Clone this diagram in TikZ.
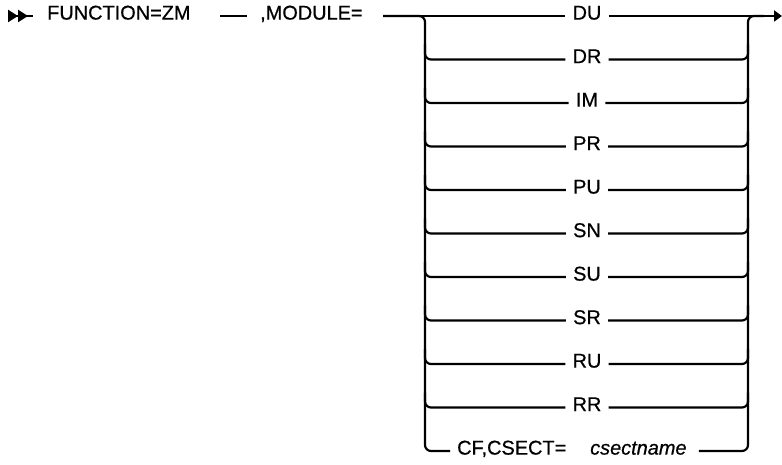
\documentclass[tikz,border=0pt]{standalone}
\usepackage{fontspec}
\setmainfont{Liberation Sans}
\newfontfamily\railfont{Liberation Sans}[FakeBold=0.6]
\usetikzlibrary{arrows.meta}

\begin{document}
\begin{tikzpicture}[
  x=1bp, y=-1bp,
  kw/.style={inner xsep=7bp, inner ysep=0pt, text height=0.72em, text depth=0pt,
             font=\railfont\fontsize{20}{24}\selectfont},
  var/.style={kw, font=\railfont\fontsize{20}{24}\selectfont\itshape},
  rail/.style={line width=2.2bp, rounded corners=6bp},
  >={Triangle[length=8bp,width=11bp]}
]
\useasboundingbox (0,0) rectangle (782,465);

%% ── main line ─────────────────────────────────────────────────
\coordinate (start) at (8,16);
\node[kw, anchor=west, inner xsep=14bp] (func) at (33,16) {FUNCTION=ZM};
\coordinate (dashL) at (220,16);
\coordinate (dashR) at (247,16);
\node[kw, anchor=west, inner xsep=0pt] (module) at (260,16) {,MODULE=};
\coordinate (lin)  at (383,16);
\coordinate (ltop) at (425,16);
\coordinate (lbot) at (425,451);
\coordinate (rtop) at (748,16);
\coordinate (rbot) at (748,451);
\coordinate (rjoin) at (764,16);
\coordinate (fin)  at (782,16);

\draw[rail, {Triangle[reversed,length=10bp,width=12bp] Triangle[reversed,length=10bp,width=12bp]}-]
  (start) -- (func);
\draw[rail] (dashL) -- (dashR);

%% ── choices ───────────────────────────────────────────────────
\node[kw] (du) at (587,16)    {DU};
\node[kw] (dr) at (587,59.5)  {DR};
\node[kw] (im) at (587,103)   {IM};
\node[kw] (pr) at (587,146.5) {PR};
\node[kw] (pu) at (587,190)   {PU};
\node[kw] (sn) at (587,233.5) {SN};
\node[kw] (su) at (587,277)   {SU};
\node[kw] (sr) at (587,320.5) {SR};
\node[kw] (ru) at (587,364)   {RU};
\node[kw] (rr) at (587,407.5) {RR};
\node[kw, anchor=west]  (cf)  at (450,451) {CF,CSECT=};
\node[var, anchor=west, inner xsep=12bp] (csn) at (578,451) {csectname};

\draw[rail] (lin) -- (du);
\draw[rail, ->] (du) -- (fin);
\draw[rail] (lin) -- (ltop) -- (lbot) -- (cf);
\draw[rail] (csn) -- (rbot) -- (rtop) -- (rjoin);
\foreach \r in {dr,im,pr,pu,sn,su,sr,ru,rr}{
  \draw[rail] (\r) -- (ltop |- \r) -- ++(0,-15);
  \draw[rail] (\r) -- (rtop |- \r) -- ++(0,-15);
}
\end{tikzpicture}
\end{document}
